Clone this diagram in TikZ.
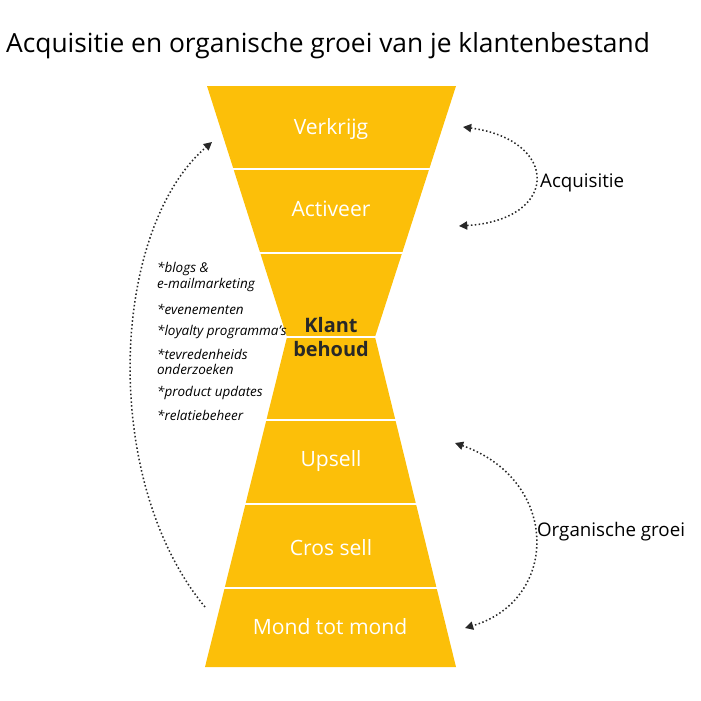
\documentclass[tikz,border=0pt]{standalone}
\usepackage{fontspec}
\setmainfont{Open Sans}
\usetikzlibrary{arrows.meta}
\definecolor{funnelyellow}{RGB}{252,191,9}
\definecolor{darktext}{RGB}{40,40,40}
\tikzset{
  bandlabel/.style={text=white,font=\fontsize{18}{20}\selectfont},
  sidelabel/.style={text=black,font=\fontsize{16}{18}\selectfont,anchor=west},
  tiplist/.style={text=black,font=\itshape\fontsize{11.5}{13}\selectfont,anchor=west,align=left},
  loopline/.style={darktext,line width=1.3pt,dotted,{Triangle[length=7pt,width=7pt]}-{Triangle[length=7pt,width=7pt]}},
  oneway/.style={darktext,line width=1.3pt,dotted,-{Triangle[length=7pt,width=7pt]}}
}
\begin{document}
\begin{tikzpicture}[x=0.03cm,y=-0.03cm]
\useasboundingbox (0,0) rectangle (701,700);
% hourglass body
\fill[funnelyellow] (207,86)--(456,86)--(375,337)--(456,667)--(205,667)--(287,337)--cycle;
% separators
\foreach \yy in {169,253,337,420,504,588}
  \draw[white,line width=1.5pt] (150,\yy)--(510,\yy);
% title
\node[anchor=west,font=\fontsize{22.5}{26}\selectfont] (title) at (2,46) {Acquisitie en organische groei van je klantenbestand};
% band labels
\node[bandlabel] (verkrijg) at (331,129) {Verkrijg};
\node[bandlabel] (activeer) at (331,209) {Activeer};
\node[text=darktext,font=\bfseries\fontsize{17}{21}\selectfont,align=center] (behoud) at (331,337) {Klant\\behoud};
\node[bandlabel] (upsell) at (331,461) {Upsell};
\node[bandlabel] (crossell) at (331,548) {Cros sell};
\node[bandlabel] (mond) at (330,627) {Mond tot mond};
% side labels
\node[sidelabel] (acq) at (536,183) {Acquisitie};
\node[sidelabel] (groei) at (533,532) {Organische groei};
% list of activities
\node[tiplist] (blogs) at (153,277) {*blogs \&\\e-mailmarketing};
\node[tiplist] (events) at (153,309) {*evenementen};
\node[tiplist] (loyal) at (153,332) {*loyalty programma's};
\node[tiplist] (tevr) at (153,362) {*tevredenheids\\onderzoeken};
\node[tiplist] (product) at (153,393) {*product updates};
\node[tiplist] (relatie) at (153,415) {*relatiebeheer};
% arrows
\coordinate (acqtop) at (463,127);
\coordinate (acqbot) at (459,226);
\coordinate (grtop) at (455,443);
\coordinate (grbot) at (465,628);
\coordinate (backfrom) at (205,607);
\coordinate (backto) at (212,142);
\draw[loopline] (acqtop) .. controls (560,140) and (560,220) .. (acqbot);
\draw[loopline] (grtop) .. controls (560,480) and (560,600) .. (grbot);
\draw[oneway] (backfrom) .. controls (100,480) and (110,230) .. (backto);
\end{tikzpicture}
\end{document}
